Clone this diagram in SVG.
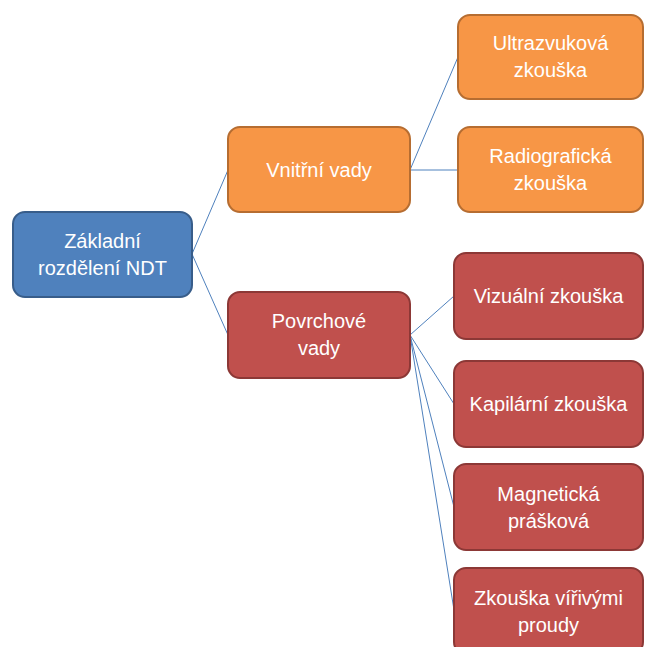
<svg xmlns="http://www.w3.org/2000/svg" width="645" height="647" viewBox="0 0 645 647">
<style>
text{font-family:"Liberation Sans",Arial,sans-serif;font-size:20px;fill:#FFFFFF;text-anchor:middle}
.b{fill:#4F81BD;stroke:#385D8A;stroke-width:2}
.o{fill:#F79646;stroke:#B66D31;stroke-width:2}
.r{fill:#C0504D;stroke:#8C3836;stroke-width:2}
.c line{stroke:#4F81BD;stroke-width:1}
</style>
<rect width="645" height="647" fill="#FFFFFF"/>
<g class="c" id="connectors">
<line x1="192" y1="254" x2="228" y2="170"/>
<line x1="192" y1="254" x2="228" y2="335"/>
<line x1="410" y1="170" x2="458" y2="57"/>
<line x1="410" y1="170" x2="458" y2="170"/>
<line x1="410" y1="335" x2="454" y2="296"/>
<line x1="410" y1="335" x2="454" y2="404"/>
<line x1="410" y1="335" x2="454" y2="507"/>
<line x1="410" y1="335" x2="454" y2="610"/>
</g>
<g id="root"><rect class="b" x="13" y="212" width="179" height="85" rx="12"/><text x="102.5" y="248">Základní</text><text x="102.5" y="275">rozdělení NDT</text></g>
<g id="vnitrni"><rect class="o" x="228" y="127" width="182" height="85" rx="12"/><text x="319" y="177">Vnitřní vady</text></g>
<g id="ultra"><rect class="o" x="458" y="15" width="185" height="84" rx="12"/><text x="550.5" y="50">Ultrazvuková</text><text x="550.5" y="77">zkouška</text></g>
<g id="radio"><rect class="o" x="458" y="127" width="185" height="85" rx="12"/><text x="550.5" y="163">Radiografická</text><text x="550.5" y="190">zkouška</text></g>
<g id="povrchove"><rect class="r" x="228" y="292" width="182" height="86" rx="12"/><text x="319" y="328">Povrchové</text><text x="319" y="355">vady</text></g>
<g id="vizualni"><rect class="r" x="454" y="253" width="189" height="86" rx="12"/><text x="548.5" y="303">Vizuální zkouška</text></g>
<g id="kapilarni"><rect class="r" x="454" y="361" width="189" height="86" rx="12"/><text x="548.5" y="411">Kapilární zkouška</text></g>
<g id="magneticka"><rect class="r" x="454" y="464" width="189" height="86" rx="12"/><text x="548.5" y="501">Magnetická</text><text x="548.5" y="528">prášková</text></g>
<g id="virive"><rect class="r" x="454" y="568" width="189" height="86" rx="12"/><text x="548.5" y="605">Zkouška vířivými</text><text x="548.5" y="632">proudy</text></g>
</svg>
